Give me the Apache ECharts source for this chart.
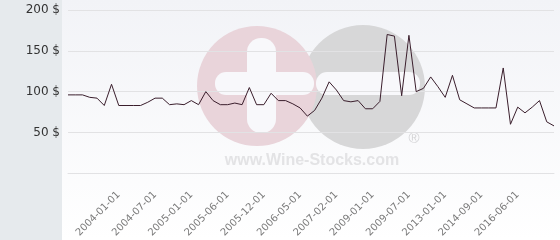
<!DOCTYPE html>
<html>
<head>
<meta charset="utf-8">
<script src="https://cdn.jsdelivr.net/npm/echarts@6/dist/echarts.min.js"></script>
<style>
html,body{margin:0;padding:0;background:#fff;}
#c{width:560px;height:240px;}
</style>
</head>
<body>
<div id="c"></div>
<script>
const categories = [
  '2003-06-01','2003-07-01','2003-08-01','2003-09-01','2003-10-01','2003-11-01','2003-12-01',
  '2004-01-01','2004-02-01','2004-03-01','2004-04-01','2004-05-01',
  '2004-07-01','2004-08-01','2004-09-01','2004-10-01','2004-11-01',
  '2005-01-01','2005-02-01','2005-03-01','2005-04-01','2005-05-01',
  '2005-06-01','2005-07-01','2005-08-01','2005-09-01','2005-10-01',
  '2005-12-01','2006-01-01','2006-02-01','2006-03-01','2006-04-01',
  '2006-05-01','2006-07-01','2006-09-01','2006-11-01','2007-01-01',
  '2007-02-01','2007-06-01','2007-11-01','2008-04-01','2008-08-01',
  '2009-01-01','2009-02-01','2009-03-01','2009-04-01','2009-06-01',
  '2009-07-01','2010-03-01','2010-11-01','2011-07-01','2012-04-01',
  '2013-01-01','2013-05-01','2013-09-01','2014-01-01','2014-05-01',
  '2014-09-01','2015-01-01','2015-05-01','2015-09-01','2016-01-01',
  '2016-06-01','2016-10-01','2017-02-01','2017-06-01','2017-10-01','2018-02-01'
];
const prices = [
  96, 96, 96, 93, 92, 83, 109,
  83, 83, 83, 83, 87,
  92, 92, 84, 85, 84,
  89, 84, 100, 89, 84,
  84, 86, 84, 105, 84,
  84, 98, 89, 89, 85,
  80, 70, 77, 92, 112,
  102, 89, 87.5, 89, 79,
  79, 88, 170, 168, 95,
  169, 100, 104, 118, 106,
  93, 120, 90, 85, 80,
  80, 80, 80, 129, 60,
  81, 74, 81, 89, 63, 58
];
const tickLabels = [
  '2004-01-01','2004-07-01','2005-01-01','2005-06-01','2005-12-01','2006-05-01',
  '2007-02-01','2009-01-01','2009-07-01','2013-01-01','2014-09-01','2016-06-01'
];
const yTicks = [0, 50, 100, 150, 200];

const chart = echarts.init(document.getElementById('c'), null, {renderer: 'canvas'});
chart.setOption({
  animation: false,
  backgroundColor: new echarts.graphic.LinearGradient(0, 0, 0, 1, [
    {offset: 0, color: '#f2f3f7'},
    {offset: 1, color: '#ffffff'}
  ]),
  graphic: [
    {type: 'rect', z: -10, shape: {x: 0, y: 0, width: 62, height: 240}, style: {fill: '#e6eaed'}},
    {type: 'circle', z: -9, shape: {cx: 363, cy: 87, r: 62}, style: {fill: '#d7d7d8'}},
    {type: 'circle', z: -9, shape: {cx: 257, cy: 86, r: 60}, style: {fill: '#e9d4da'}},
    {type: 'rect', z: -8, shape: {x: 247, y: 38, width: 29, height: 95, r: 14}, style: {fill: '#f8f8fb'}},
    {type: 'rect', z: -8, shape: {x: 215, y: 72, width: 99, height: 23, r: 11}, style: {fill: '#f8f8fb'}},
    {type: 'rect', z: -8, shape: {x: 316, y: 72, width: 104, height: 23, r: 11}, style: {fill: '#f8f8fb'}},
    {type: 'text', z: -8, style: {x: 312, y: 161, text: 'www.Wine-Stocks.com', fill: '#e3e3e5',
      font: 'bold 16px "Liberation Sans", Arial, sans-serif', textAlign: 'center', textVerticalAlign: 'middle'}},
    {type: 'text', z: -8, style: {x: 414, y: 139, text: '®', fill: '#d4d4d6',
      font: '15px "Liberation Sans", Arial, sans-serif', textAlign: 'center', textVerticalAlign: 'middle'}}
  ],
  grid: {left: 68, right: 6, top: 10, bottom: 62, containLabel: false},
  xAxis: {
    type: 'category',
    data: categories,
    boundaryGap: false,
    axisLine: {show: true, lineStyle: {color: '#e2e2e4', width: 1}},
    axisTick: {show: false},
    axisLabel: {
      rotate: 45,
      margin: 20,
      color: '#7a7a7a',
      fontSize: 10,
      fontFamily: 'DejaVu Sans',
      interval: function (index, value) { return tickLabels.indexOf(value) !== -1; }
    },
    splitLine: {show: false}
  },
  yAxis: {
    type: 'value',
    min: yTicks[0],
    max: yTicks[yTicks.length - 1],
    interval: yTicks[1] - yTicks[0],
    axisLine: {show: false},
    axisTick: {show: false},
    axisLabel: {
      margin: 8,
      color: '#333',
      fontSize: 12,
      fontFamily: 'DejaVu Sans',
      formatter: function (v) { return v === 0 ? '' : v + ' $'; }
    },
    splitLine: {lineStyle: {color: '#e2e2e4', width: 1}}
  },
  series: [{
    type: 'line',
    data: prices,
    showSymbol: false,
    symbol: 'none',
    lineStyle: {color: '#3a1e2c', width: 1},
    z: 5
  }]
});
</script>
</body>
</html>
